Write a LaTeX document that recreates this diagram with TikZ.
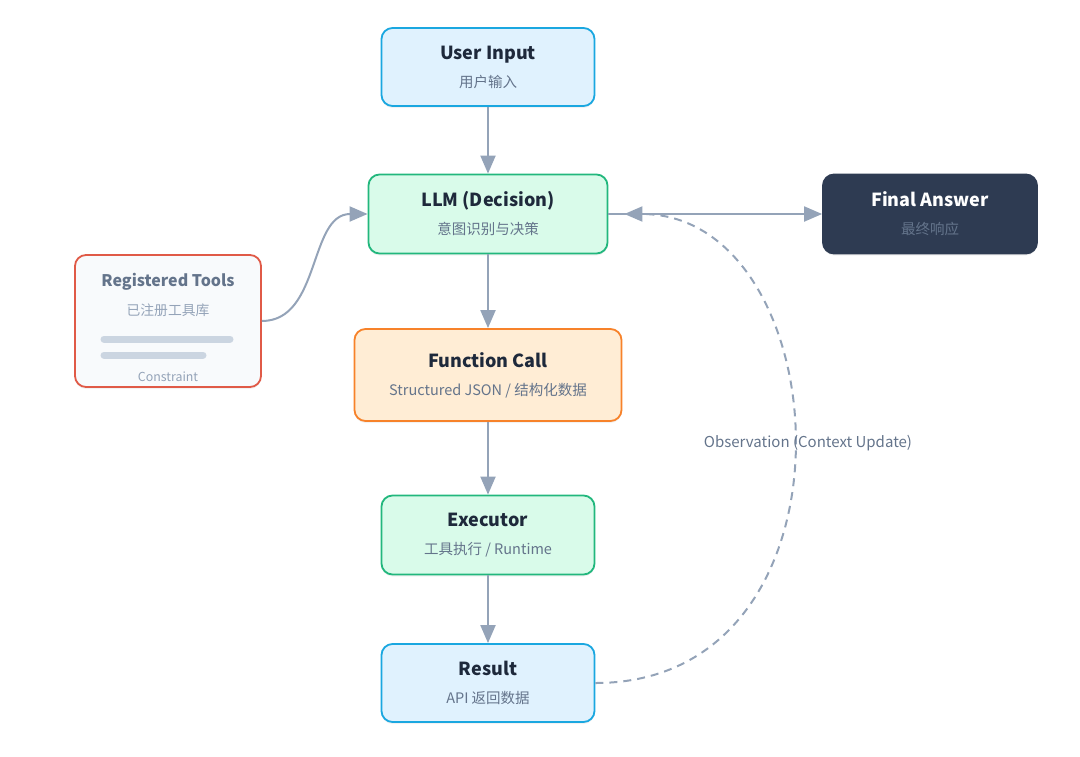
\documentclass[tikz,border=0pt]{standalone}
\usepackage{fontspec}
\setmainfont{Noto Sans CJK SC}
\usetikzlibrary{positioning, arrows.meta, shadows}

\definecolor{titletext}{HTML}{1E293B}
\definecolor{subtext}{HTML}{64748B}
\definecolor{arrowgrey}{HTML}{94A3B8}
\definecolor{bluefill}{HTML}{E0F2FE}
\definecolor{blueline}{HTML}{1AA7E0}
\definecolor{greenfill}{HTML}{D9FBEA}
\definecolor{greenline}{HTML}{22B77D}
\definecolor{orangefill}{HTML}{FFEDD5}
\definecolor{orangeline}{HTML}{F7822A}
\definecolor{darkfill}{HTML}{2E3B52}
\definecolor{toolfill}{HTML}{F8FAFC}
\definecolor{toolline}{HTML}{E05A47}
\definecolor{barfill}{HTML}{CBD5E1}

\newcommand{\ttl}[1]{{\bfseries\fontsize{18}{20}\selectfont #1}}

\begin{document}
\begin{tikzpicture}[
        x=1pt, y=-1pt,
        box/.style={
          align=center, draw, line width=1.8pt, rounded corners=11pt, inner sep=0pt,
          minimum width=213pt, minimum height=78pt, text=subtext,
          font=\fontsize{14.5}{28}\selectfont,
          drop shadow={opacity=0.10, shadow xshift=0pt, shadow yshift=-2pt}
        },
        bluebox/.style={box, fill=bluefill, draw=blueline},
        greenbox/.style={box, fill=greenfill, draw=greenline},
        orangebox/.style={box, fill=orangefill, draw=orangeline},
        darkbox/.style={box, fill=darkfill, draw=darkfill},
        toolbox/.style={box, fill=toolfill, draw=toolline, minimum width=186pt, minimum height=132pt},
        flow/.style={draw=arrowgrey, line width=2pt, -{Triangle[length=18pt, width=15pt]}},
        loopback/.style={flow, dash pattern=on 8pt off 6pt, shorten >=16pt},
        obs_label/.style={text=subtext, font=\fontsize{15}{17}\selectfont},
      ]
        \useasboundingbox (0,0) rectangle (1080,756);

        % main column
        \node [bluebox] (user_input) at (488,67) {\ttl{\color{titletext}User Input}\\用户输入};
        \node [greenbox, minimum width=239pt, minimum height=79pt, below=66.7pt of user_input] (llm) {\ttl{\color{titletext}LLM (Decision)}\\意图识别与决策};
        \node [orangebox, minimum width=267pt, minimum height=92pt, below=73.7pt of llm] (func_call) {\ttl{\color{titletext}Function Call}\\Structured JSON / 结构化数据};
        \node [greenbox, minimum height=79pt, below=72.7pt of func_call] (executor) {\ttl{\color{titletext}Executor}\\工具执行 / Runtime};
        \node [bluebox, below=67.7pt of executor] (result) {\ttl{\color{titletext}Result}\\API 返回数据};

        % side boxes
        \node [darkbox, minimum width=214pt, minimum height=79pt, right=213.7pt of llm] (final_answer) {\ttl{\color{white}Final Answer}\\最终响应};
        \node [toolbox] (tools) at (168,321) {};
        \node [text=subtext, font=\bfseries\fontsize{16}{18}\selectfont] (tools_title) at (168,282) {Registered Tools};
        \node [text=arrowgrey, font=\fontsize{13.8}{15}\selectfont] (tools_sub) at (168,310) {已注册工具库};
        \draw [barfill, line width=7pt, line cap=round] (104,339) -- (230,339);
        \draw [barfill, line width=7pt, line cap=round] (104,355) -- (203,355);
        \node [text=arrowgrey, font=\fontsize{12.4}{14}\selectfont] (tools_note) at (168,377) {Constraint};

        % arrows
        \draw [flow] (user_input) -- (llm);
        \draw [flow] (llm) -- (func_call);
        \draw [flow] (func_call) -- (executor);
        \draw [flow] (executor) -- (result);
        \draw [flow] (llm) -- (final_answer);
        \draw [flow] (tools.east) to[out=0, in=180] (llm.west);

        % observation loop
        \draw [loopback] (result.east) .. controls (870,683) and (840,214) .. (llm.east);
        \node [obs_label] (observation) at (808,443) {Observation (Context Update)};

      \end{tikzpicture}
\end{document}
